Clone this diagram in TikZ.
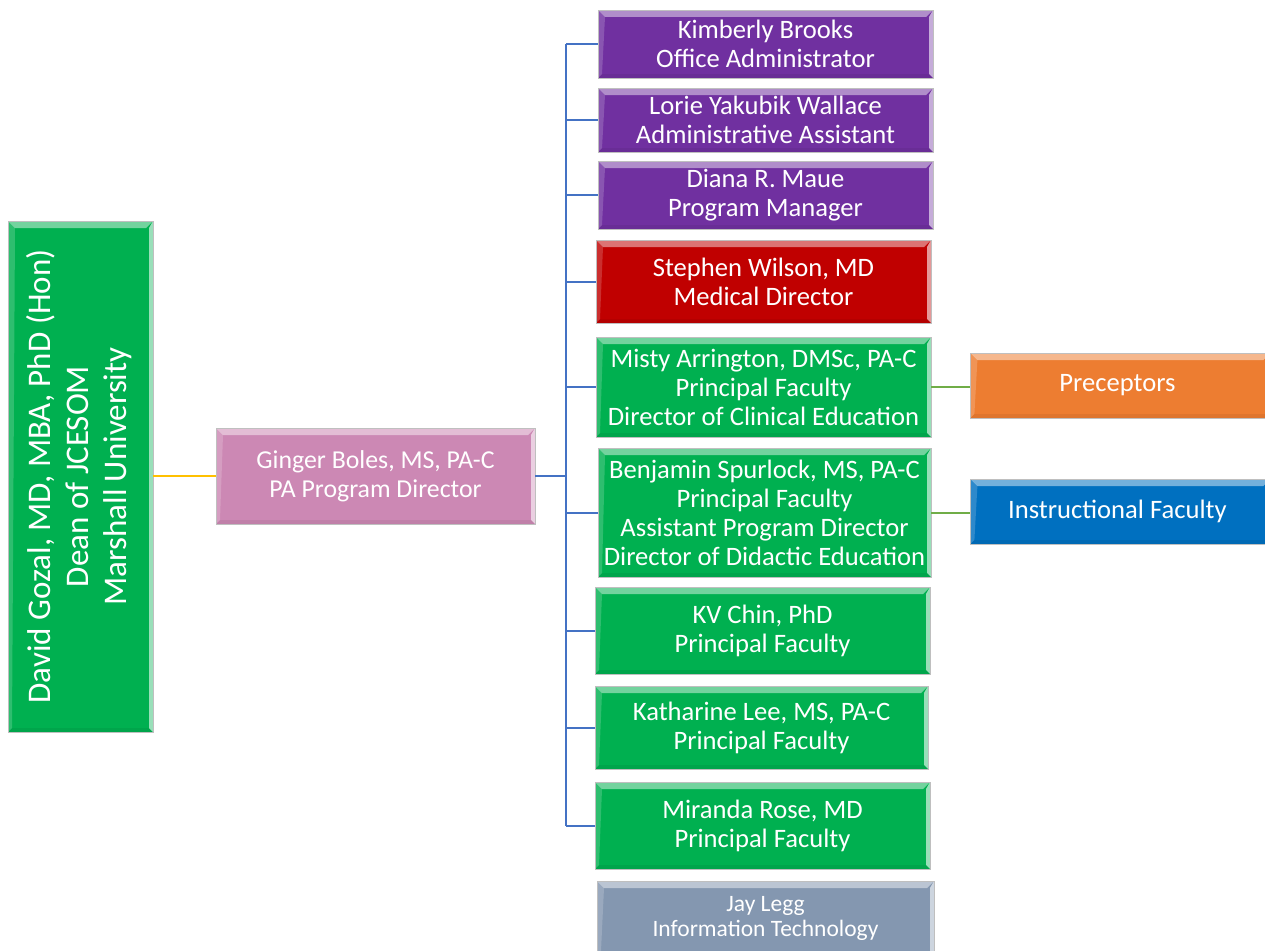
\documentclass[tikz,border=0pt]{standalone}
\usepackage{fontspec}
\setmainfont{Carlito}
\definecolor{cgreen}{HTML}{00B050}
\definecolor{cpurple}{HTML}{7030A0}
\definecolor{cred}{HTML}{C00000}
\definecolor{corange}{HTML}{ED7D31}
\definecolor{cblue}{HTML}{0070C0}
\definecolor{cgray}{HTML}{8497B0}
\definecolor{cpink}{HTML}{CC88B4}
\definecolor{cline}{HTML}{4472C4}
\definecolor{cgold}{HTML}{FFC000}
\definecolor{cgline}{HTML}{70AD47}
\definecolor{cedge}{HTML}{BFBFBF}
\tikzset{
  bevel/.style={path picture={
    \fill[white,opacity=0.45] (path picture bounding box.north west) -- (path picture bounding box.north east)
      -- ([xshift=-7pt,yshift=-7pt]path picture bounding box.north east) -- ([xshift=7pt,yshift=-7pt]path picture bounding box.north west) -- cycle;
    \fill[white,opacity=0.6] (path picture bounding box.north east) -- (path picture bounding box.south east)
      -- ([xshift=-4pt,yshift=4pt]path picture bounding box.south east) -- ([xshift=-4pt,yshift=-7pt]path picture bounding box.north east) -- cycle;
    \fill[white,opacity=0.18] (path picture bounding box.north west) -- (path picture bounding box.south west)
      -- ([xshift=4pt,yshift=4pt]path picture bounding box.south west) -- ([xshift=7pt,yshift=-7pt]path picture bounding box.north west) -- cycle;
    \fill[black,opacity=0.06] (path picture bounding box.south west) -- (path picture bounding box.south east)
      -- ([xshift=-4pt,yshift=4pt]path picture bounding box.south east) -- ([xshift=4pt,yshift=4pt]path picture bounding box.south west) -- cycle;
  }},
  box/.style={bevel, draw=cedge, line width=0.8pt, text=white, align=center, inner sep=0pt,
    font=\fontsize{26.6}{29}\selectfont},
  bl/.style={draw=cline, line width=2pt},
  gl/.style={draw=cgline, line width=2pt},
}
\begin{document}
\begin{tikzpicture}[x=1pt,y=-1pt]
\useasboundingbox (0,0) rectangle (1265,950);
\fill[white] (0,0) rectangle (1265,950);
% dean
\node[box, fill=cgreen, minimum width=145pt, minimum height=511pt] (dean) at (80.5,476.5) {};
\node[rotate=90, text=white, align=center, inner sep=0pt, font=\fontsize{33}{38}\selectfont] (deantext) at ([xshift=-1pt]dean.center) {David Gozal, MD, MBA, PhD (Hon)\\Dean of JCESOM\\Marshall University};
% director
\node[box, fill=cpink, minimum width=319pt, minimum height=96pt, font=\fontsize{25.8}{29}\selectfont] (gin) at (375.5,476) {Ginger Boles, MS, PA-C\\PA Program Director};
% staff
\node[box, fill=cpurple, minimum width=335pt, minimum height=68pt] (kim) at (765.5,44) {Kimberly Brooks\\Office Administrator};
\node[box, fill=cpurple, minimum width=335pt, minimum height=64pt] (lor) at (765.5,120) {Lorie Yakubik Wallace\\Administrative Assistant};
\node[box, fill=cpurple, minimum width=335pt, minimum height=68pt] (dia) at (765.5,195) {Diana R. Maue\\Program Manager};
\node[box, fill=cred, minimum width=335pt, minimum height=83pt] (ste) at (763.5,281.5) {Stephen Wilson, MD\\Medical Director};
\node[box, fill=cgreen, minimum width=335pt, minimum height=100pt] (mis) at (763.5,387) {Misty Arrington, DMSc, PA-C\\Principal Faculty\\Director of Clinical Education};
\node[box, fill=cgreen, minimum width=333pt, minimum height=129pt] (ben) at (764.5,512.5) {Benjamin Spurlock, MS, PA-C\\Principal Faculty\\Assistant Program Director\\Director of Didactic Education};
\node[box, fill=cgreen, minimum width=335pt, minimum height=87pt] (kv) at (762.5,630.5) {KV Chin, PhD\\Principal Faculty};
\node[box, fill=cgreen, minimum width=333pt, minimum height=83pt] (kat) at (761.5,727.5) {Katharine Lee, MS, PA-C\\Principal Faculty};
\node[box, fill=cgreen, minimum width=335pt, minimum height=87pt] (mir) at (762.5,825.5) {Miranda Rose, MD\\Principal Faculty};
\node[box, fill=cgray, minimum width=337pt, minimum height=74pt, font=\fontsize{23.5}{25}\selectfont] (jay) at (765.5,918) {Jay Legg\\Information Technology};
% side
\node[box, fill=corange, minimum width=300pt, minimum height=65pt, anchor=west] (pre) at (970,385.5) {\hspace*{-6pt}Preceptors};
\node[box, fill=cblue, minimum width=300pt, minimum height=65pt, anchor=west] (ins) at (970,511.5) {\hspace*{-6pt}Instructional Faculty};
% connectors
\draw[draw=cgold, line width=2pt] (dean.east |- gin.west) -- (gin.west);
\coordinate (bus) at (566,477);
\draw[bl] (gin.east) -- (gin.east -| bus);
\draw[bl] (bus |- kim.west) -- (bus |- mir.west);
\foreach \n in {kim,lor,dia,ste,mis,ben,kv,kat,mir}{
  \draw[bl] (bus |- \n.west) -- (\n.west);
}
\draw[gl] (mis.east) -- (mis.east -| pre.west);
\draw[gl] (ben.east) -- (ben.east -| ins.west);
\end{tikzpicture}
\end{document}
